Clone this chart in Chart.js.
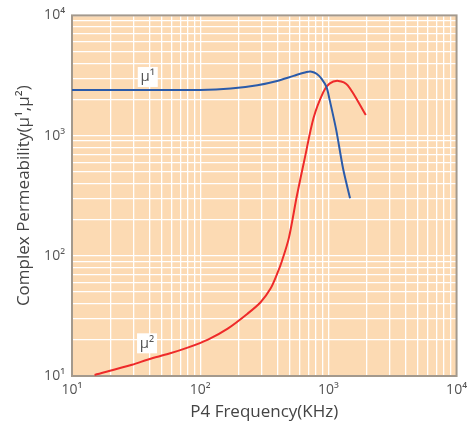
<!DOCTYPE html>
<html>
<head>
<meta charset="utf-8">
<script src="https://cdn.jsdelivr.net/npm/chart.js@4/dist/chart.umd.min.js"></script>
<style>
  html, body { margin: 0; padding: 0; background: #ffffff; }
  #wrap { width: 473px; height: 428px; }
</style>
</head>
<body>
<div id="wrap"><canvas id="chart"></canvas></div>
<script>
// frequency (KHz) and permeability
const freqMu1 = [10, 100, 173, 279, 398, 535, 677, 740, 809, 883, 966, 1018, 1150, 1302, 1476];
const mu1 = [2400, 2400, 2460, 2625, 2850, 3140, 3380, 3400, 3270, 2980, 2540, 2030, 1121, 533, 301];

const freqMu2 = [15, 29.4, 39.8, 56.7, 80.8, 115, 164, 234, 296, 353, 398, 435, 492, 567, 654, 767, 915, 1020, 1194, 1416, 1959];
const mu2 = [10.2, 12.4, 13.8, 15.3, 17.3, 20.1, 24.8, 33.0, 41.1, 53.1, 70.6, 91, 141, 313, 646, 1409, 2311, 2705, 2851, 2623, 1483];

const seriesNames = ['μ¹', 'μ²'];
const decades = [1, 2, 3, 4];          // 10^1 .. 10^4 on both axes
const supers = { 1: '¹', 2: '²', 3: '³', 4: '⁴' };

const ptsMu1 = freqMu1.map((f, i) => ({ x: f, y: mu1[i] }));
const ptsMu2 = freqMu2.map((f, i) => ({ x: f, y: mu2[i] }));

// every 1..9 x 10^n step as a grid line
function logTicks() {
    const out = [];
    for (let e = decades[0]; e < decades[decades.length - 1]; e++) {
        for (let s = 1; s < 10; s++) out.push({ value: s * Math.pow(10, e), major: s === 1 });
    }
    out.push({ value: Math.pow(10, decades[decades.length - 1]), major: true });
    return out;
}

function tickLabel(value) {
    const e = Math.round(Math.log10(value));
    if (Math.abs(Math.log10(value) - e) < 1e-9) return '10' + supers[e];
    return '';
}

const plotDeco = {
    id: 'plotDeco',
    beforeDraw(chart) {
        const { ctx, chartArea: a } = chart;
        ctx.save();
        ctx.fillStyle = '#FCDAB3';
        ctx.fillRect(a.left, a.top, a.right - a.left, a.bottom - a.top);
        ctx.restore();
    },
    beforeDatasetsDraw(chart) {
        const { ctx, chartArea: a } = chart;
        ctx.save();
        ctx.strokeStyle = '#A3998D';
        ctx.lineWidth = 2;
        ctx.strokeRect(a.left, a.top, a.right - a.left, a.bottom - a.top);
        ctx.restore();
    },
    afterDatasetsDraw(chart) {
        const { ctx, scales } = chart;
        const tags = [
            { text: seriesNames[0], x: 39, y: 3075 },
            { text: seriesNames[1], x: 38.5, y: 18.7 }
        ];
        ctx.save();
        ctx.font = '15px "Open Sans"';
        ctx.textAlign = 'center';
        ctx.textBaseline = 'middle';
        tags.forEach(t => {
            const px = scales.x.getPixelForValue(t.x);
            const py = scales.y.getPixelForValue(t.y);
            ctx.fillStyle = '#ffffff';
            ctx.fillRect(px - 10, py - 10, 20, 20);
            ctx.fillStyle = '#555555';
            ctx.fillText(t.text, px, py);
        });
        ctx.restore();
    }
};

new Chart(document.getElementById('chart'), {
    type: 'line',
    data: {
        datasets: [
            {
                label: seriesNames[0],
                data: ptsMu1,
                borderColor: '#2B5BAA',
                borderWidth: 2,
                pointRadius: 0,
                tension: 0.3,
                fill: false
            },
            {
                label: seriesNames[1],
                data: ptsMu2,
                borderColor: '#EE2A2A',
                borderWidth: 2,
                pointRadius: 0,
                tension: 0.3,
                fill: false
            }
        ]
    },
    options: {
        responsive: true,
        maintainAspectRatio: false,
        animation: false,
        layout: { padding: { top: 10, right: 9, left: 0, bottom: 0 } },
        plugins: {
            legend: { display: false },
            tooltip: { enabled: false }
        },
        scales: {
            x: {
                type: 'logarithmic',
                min: 10,
                max: 10000,
                afterBuildTicks: (s) => { s.ticks = logTicks(); },
                afterFit: (s) => { s.height = 52; },
                grid: { color: '#FFFFFF', lineWidth: 1.3, drawTicks: false },
                border: { display: false },
                ticks: {
                    autoSkip: false,
                    maxRotation: 0,
                    padding: 6,
                    color: '#555555',
                    font: { family: 'Open Sans', size: 14 },
                    callback: (v) => tickLabel(v)
                },
                title: {
                    display: true,
                    text: 'P4 Frequency(KHz)',
                    color: '#444444',
                    font: { family: 'Open Sans', size: 17 },
                    padding: { top: 0, bottom: 6 }
                }
            },
            y: {
                type: 'logarithmic',
                min: 10,
                max: 10000,
                afterBuildTicks: (s) => { s.ticks = logTicks(); },
                afterFit: (s) => { s.width = 72; },
                grid: { color: '#FFFFFF', lineWidth: 1.3, drawTicks: false },
                border: { display: false },
                ticks: {
                    autoSkip: false,
                    padding: 7,
                    color: '#555555',
                    font: { family: 'Open Sans', size: 14 },
                    callback: (v) => tickLabel(v)
                },
                title: {
                    display: true,
                    text: 'Complex Permeability(μ¹,μ²)',
                    color: '#444444',
                    font: { family: 'Open Sans', size: 17 },
                    padding: { top: 14, bottom: 0 }
                }
            }
        }
    },
    plugins: [plotDeco]
});
</script>
</body>
</html>
